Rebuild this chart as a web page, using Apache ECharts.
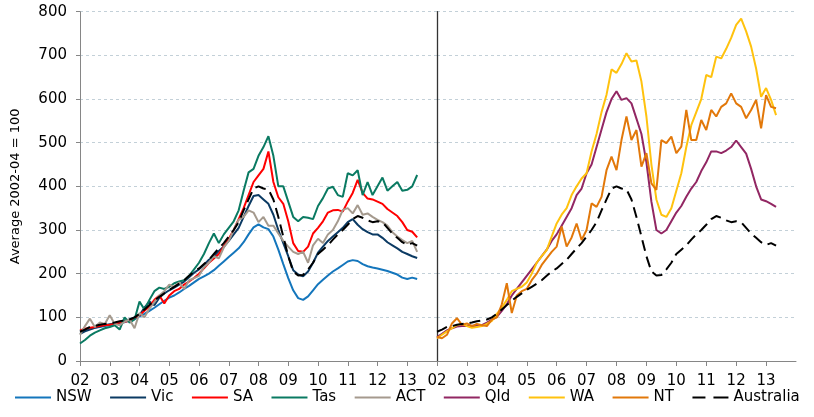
<!DOCTYPE html>
<html><head><meta charset="utf-8">
<script src="https://cdn.jsdelivr.net/npm/echarts@6/dist/echarts.min.js"></script>
<style>html,body{margin:0;padding:0;background:#fff}#c{width:814px;height:417px}</style>
</head><body><div id="c"></div>
<script>
// Data: bi-monthly observations starting Jan 2002 (index i -> 2002 + i/6)
const START_YEAR = 2002;
const STEP_YEARS = 1 / 6;
const tickLabels = ['02','03','04','05','06','07','08','09','10','11','12','13'];
const yTitle = 'Average 2002-04 = 100';
const legendNames = ['NSW','Vic','SA','Tas','ACT','Qld','WA','NT','Australia'];

const NSW = [68,71,74,76,78,80, 82,84,87,89,92,96, 102,108,115,122,130,138, 145,150,157,165,172,180,
  188,194,200,208,218,228, 238,248,258,272,290,306, 313,306,302,285,255,222, 190,162,144,140,148,162,
  176,186,196,205,212,220, 228,231,229,222,217,214, 212,209,206,202,198,191, 188,191,188];
const Vic = [62,68,72,76,79,82, 84,86,89,92,95,100, 105,122,136,128,145,155, 162,168,175,182,192,202,
  210,220,232,240,252,262, 275,290,305,330,355,378, 380,370,360,335,300,270, 240,208,198,194,205,225,
  248,262,275,285,295,305, 318,325,312,302,295,290, 290,282,272,265,258,250, 245,240,236];
const SA = [70,74,76,78,80,82, 83,85,88,90,92,98, 105,115,125,140,150,132, 150,160,165,175,182,190,
  200,212,225,235,245,262, 280,300,325,350,380,410, 425,440,480,410,375,360, 320,270,252,250,262,292,
  305,320,340,345,346,342, 365,385,415,385,372,370, 365,360,348,340,332,318, 300,296,283];
const Tas = [40,48,58,65,70,75, 78,82,72,100,88,95, 136,118,140,160,168,165, 170,178,182,185,195,210,
  225,245,270,292,270,290, 305,320,345,390,432,440, 470,490,515,470,400,400, 365,330,320,330,328,325,
  355,373,395,399,380,376, 430,425,437,380,410,380, 400,420,390,400,410,390, 392,400,426];
const ACT = [60,80,97,78,88,85, 105,85,82,90,95,75, 110,100,120,135,150,160, 175,170,180,165,185,190,
  195,215,225,240,235,260, 275,300,323,330,345,340, 318,330,310,310,292,275, 262,250,245,250,225,265,
  280,270,290,300,320,346, 350,338,357,335,338,330, 323,318,310,295,285,277, 270,275,250];
const Qld = [55,62,70,75,79,80, 80,81,80,82,88,95, 101,115,130,150,165,180, 195,210,225,240,255,275,
  290,310,330,350,380,395, 430,450,490,530,570,600, 618,598,602,590,555,520, 455,365,300,292,300,320,
  340,355,376,395,410,435, 455,480,480,476,482,490, 505,490,475,440,400,370, 366,360,353];
const WA = [52,60,68,75,82,85, 80,76,78,80,85,92, 108,122,140,160,165,170, 180,200,225,240,254,285,
  315,335,350,380,400,418, 430,480,520,570,610,668, 660,680,705,686,688,640, 560,450,370,335,330,350,
  390,430,490,540,570,600, 655,650,697,693,715,740, 770,784,755,720,670,605, 625,598,563];
const NT = [55,52,60,86,98,83, 86,80,85,82,80,95, 100,130,178,110,150,160, 165,185,200,220,235,250,
  262,308,262,283,315,277, 300,361,353,376,437,468, 437,506,560,506,529,445, 476,407,392,506,499,514,
  476,491,575,506,506,552, 529,575,560,582,590,613, 590,582,556,575,598,533, 609,582,579];
const Australia = [67,72,78,80,83,85, 86,88,91,93,95,100, 108,118,128,138,147,155, 163,170,177,185,195,205,
  212,222,232,245,258,270, 285,300,318,345,370,395, 400,395,393,370,330,285, 240,205,196,197,210,225,
  245,255,265,278,290,300, 312,325,332,328,322,318, 320,318,305,292,282,272, 266,270,264];

const FONT = 'DejaVu Sans';
const SOLID_ICON = 'path://M0,0H36V2H0Z';
const DASH_ICON = 'path://M0,0H13V2H0Z M21,0H36V2H21Z';

function pts(arr) { return arr.map((v, i) => [START_YEAR + i * STEP_YEARS, v]); }
function line(name, data, color, g, dashed) {
  return {
    name, type: 'line', data: pts(data), xAxisIndex: g, yAxisIndex: g,
    symbol: 'none', showSymbol: false, animation: false,
    lineStyle: { color, width: 2, type: dashed ? [11, 6] : 'solid' },
    itemStyle: { color }
  };
}
const xAx = g => ({
  type: 'value', gridIndex: g, min: 2002, max: 2014, interval: 1,
  axisLine: { show: true, lineStyle: { color: '#868686', width: 1 } },
  axisTick: { show: true, length: 5, lineStyle: { color: '#868686' } },
  splitLine: { show: false },
  axisLabel: {
    fontFamily: FONT, fontSize: 15, color: '#000', margin: 13, showMaxLabel: false,
    formatter: v => { const k = Math.round(v) - 2002; return tickLabels[k] || ''; }
  }
});
const split = { show: true, lineStyle: { color: '#C3D0D8', type: [3, 3], width: 1 } };

const chart = echarts.init(document.getElementById('c'), null, { renderer: 'canvas' });
chart.setOption({
  backgroundColor: '#fff',
  animation: false,
  grid: [
    { left: 80, top: 11.7, width: 357, height: 349.3 },
    { left: 437, top: 11.7, width: 359, height: 349.3 }
  ],
  xAxis: [xAx(0), xAx(1)],
  yAxis: [
    { type: 'value', gridIndex: 0, min: 0, max: 800, interval: 100,
      name: yTitle, nameLocation: 'middle', nameGap: 58,
      nameTextStyle: { fontFamily: FONT, fontSize: 13, color: '#000' },
      axisLine: { show: true, lineStyle: { color: '#868686' } },
      axisTick: { show: true, length: 4, lineStyle: { color: '#868686' } },
      axisLabel: { fontFamily: FONT, fontSize: 15, color: '#000', margin: 13 },
      splitLine: split },
    { type: 'value', gridIndex: 1, min: 0, max: 800, interval: 100,
      axisLine: { show: true, lineStyle: { color: '#333', width: 1.3 } },
      axisTick: { show: false }, axisLabel: { show: false },
      splitLine: split }
  ],
  legend: {
    data: legendNames.map(n => ({ name: n, icon: n === 'Australia' ? DASH_ICON : SOLID_ICON })),
    left: 15, top: 390, width: 805, padding: 0, itemWidth: 36, itemHeight: 2, itemGap: 18.5,
    textStyle: { fontFamily: FONT, fontSize: 15, color: '#000' }
  },
  series: [
    line('NSW', NSW, '#1476BC', 0),
    line('Vic', Vic, '#0B3A63', 0),
    line('SA', SA, '#FF0000', 0),
    line('Tas', Tas, '#0A7A62', 0),
    line('ACT', ACT, '#A59A8E', 0),
    line('Australia', Australia, '#000000', 0, true),
    line('Qld', Qld, '#922763', 1),
    line('WA', WA, '#FFC20E', 1),
    line('NT', NT, '#E2780A', 1),
    line('Australia', Australia, '#000000', 1, true)
  ]
});
</script></body></html>
